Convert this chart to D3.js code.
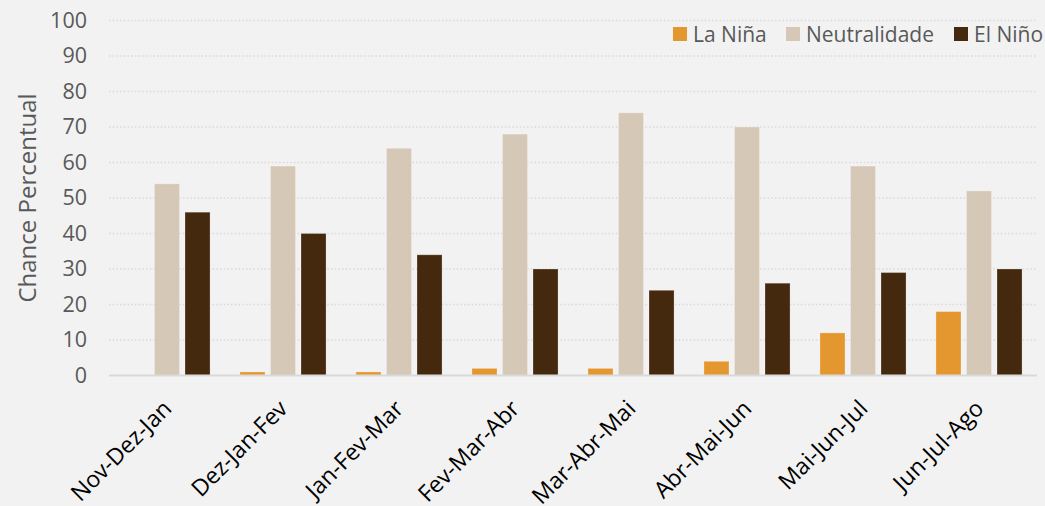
<!DOCTYPE html>
<html><head><meta charset="utf-8">
<script src="https://cdn.jsdelivr.net/npm/d3@7"></script>
<style>
html,body{margin:0;padding:0;background:#F2F2F2;}
svg{display:block;font-family:"Open Sans",sans-serif;}
</style></head>
<body>
<svg id="chart" width="1045" height="506"></svg>
<script>
const categories = ["Nov-Dez-Jan","Dez-Jan-Fev","Jan-Fev-Mar","Fev-Mar-Abr","Mar-Abr-Mai","Abr-Mai-Jun","Mai-Jun-Jul","Jun-Jul-Ago"];
const seriesNames = ["La Niña","Neutralidade","El Niño"];
const laNina = [0,1,1,2,2,4,12,18];
const neutralidade = [54,59,64,68,74,70,59,52];
const elNino = [46,40,34,30,24,26,29,30];
const yTicks = [0,10,20,30,40,50,60,70,80,90,100];
const colors = ["#E4962F","#D5C8B7","#44290E"];

const svg = d3.select("#chart");
const W = 1045, H = 506;
svg.append("rect").attr("width",W).attr("height",H).attr("fill","#F2F2F2");

const m = {left:109, right:1037, top:20.5, bottom:375.5};
const x0 = d3.scaleBand().domain(categories).range([m.left,m.right]).paddingInner(0).paddingOuter(0);
const y = d3.scaleLinear().domain([0,100]).range([m.bottom,m.top]);
const groupW = x0.bandwidth()*0.742;
const x1 = d3.scaleBand().domain(seriesNames).range([0,groupW]).paddingInner(0.18).paddingOuter(0);

// y axis tick labels
const yAxis = d3.axisLeft(y).tickValues(yTicks).tickSize(0).tickPadding(22);
const gy = svg.append("g").attr("transform",`translate(${m.left},0)`).call(yAxis);
gy.select(".domain").remove();
gy.selectAll("text").attr("font-size","21.5px").attr("fill","#595959").attr("font-family","'Open Sans',sans-serif");

// gridlines
svg.append("g").selectAll("line").data(yTicks.filter(d=>d>0)).join("line")
  .attr("x1",m.left).attr("x2",m.right)
  .attr("y1",d=>y(d)).attr("y2",d=>y(d))
  .attr("stroke","#D9D9D9").attr("stroke-width",1.3).attr("stroke-dasharray","1.5,2.2");

const data = categories.map((c,i)=>({cat:c, vals:[laNina[i],neutralidade[i],elNino[i]]}));
const groups = svg.append("g").selectAll("g").data(data).join("g")
  .attr("transform",d=>`translate(${x0(d.cat)+(x0.bandwidth()-groupW)/2},0)`);
groups.selectAll("rect").data(d=>d.vals.map((v,j)=>({v,name:seriesNames[j],j}))).join("rect")
  .attr("x",d=>x1(d.name)).attr("width",x1.bandwidth())
  .attr("y",d=>y(d.v)).attr("height",d=>y(0)-y(d.v))
  .attr("fill",d=>colors[d.j])
  .attr("stroke","#ffffff").attr("stroke-opacity",0.25).attr("stroke-width",1);

// baseline
svg.append("line").attr("x1",m.left).attr("x2",m.right).attr("y1",y(0)).attr("y2",y(0))
  .attr("stroke","#D9D9D9").attr("stroke-width",2);

// x labels
const xAxis = d3.axisBottom(x0).tickSize(0).tickPadding(0);
const gx = svg.append("g").attr("transform",`translate(0,${y(0)})`).call(xAxis);
gx.select(".domain").remove();
gx.selectAll("text").attr("font-size","23px").attr("fill","#000").attr("font-family","'Open Sans',sans-serif")
  .attr("text-anchor","end").attr("dy","0").attr("y",0)
  .attr("transform","translate(6,34.5) rotate(-45)");

// y title
svg.append("text").attr("transform","translate(36,198) rotate(-90)")
  .attr("text-anchor","middle").attr("font-size","24px").attr("fill","#595959")
  .text("Chance Percentual");

// legend
const legX = [673,786,954];
const leg = svg.append("g").selectAll("g").data(seriesNames).join("g")
  .attr("transform",(d,i)=>`translate(${legX[i]},27)`);
leg.append("rect").attr("width",14).attr("height",14).attr("fill",(d,i)=>colors[i]);
leg.append("text").attr("x",20).attr("y",14.5).attr("font-size","21px").attr("fill","#595959").text(d=>d);
</script>
</body></html>
